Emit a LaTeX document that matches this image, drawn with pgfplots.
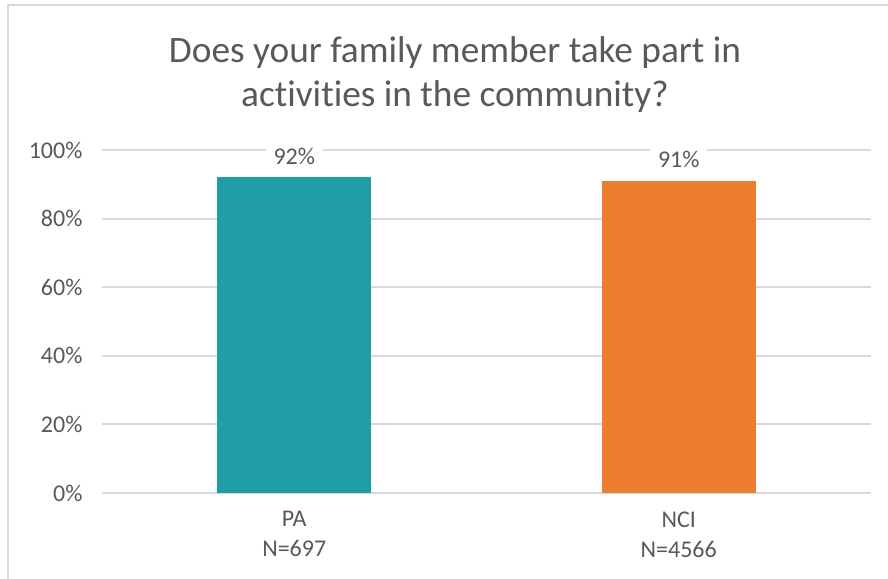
\documentclass[border=0pt]{standalone}
\usepackage{pgfplots}
\pgfplotsset{compat=1.18}
\usepackage{fontspec}
\setmainfont{Carlito}[Ligatures={NoCommon}]

\definecolor{txtgray}{HTML}{595959}
\definecolor{gridgray}{HTML}{D9D9D9}
\definecolor{barteal}{HTML}{209DA6}
\definecolor{barorange}{HTML}{ED7D31}

\begin{document}
\begin{tikzpicture}
\path[use as bounding box] (-102bp,-86bp) rectangle (786bp,493bp);
\fill[white] (-102bp,-86bp) rectangle (786bp,493bp);
\draw[gridgray, line width=2bp] (-94bp,-86bp) -- (-94bp,488bp) -- (786bp,488bp);

\begin{axis}[
  at={(0,0)}, anchor=south west,
  scale only axis,
  width=769bp, height=343bp,
  ybar, bar width=154bp,
  xmin=-0.5, xmax=1.5,
  ymin=0, ymax=100,
  xtick={0,1},
  xticklabels={{PA\\N=697},{NCI\\N=4566}},
  ytick={0,20,40,60,80,100},
  yticklabel={\pgfmathprintnumber{\tick}\%},
  /pgf/number format/assume math mode=true,
  major tick length=0pt,
  axis x line*=bottom,
  axis y line*=left,
  x axis line style={gridgray, line width=2bp},
  y axis line style={draw=none},
  ymajorgrids,
  grid style={gridgray, line width=2bp},
  ticklabel style={font=\fontsize{24bp}{30bp}\selectfont, text=txtgray},
  xticklabel style={align=center, yshift=-15bp},
  yticklabel style={xshift=-16bp},
  title={Does your family member take part in\\activities in the community?},
  title style={align=center, font=\fontsize{37.3bp}{44bp}\selectfont, text=txtgray,
    at={(axis description cs:0.459,1.202)}, anchor=center},
  nodes near coords={\pgfmathprintnumber{\pgfplotspointmeta}\%},
  nodes near coords style={font=\fontsize{24bp}{29bp}\selectfont, text=txtgray,
    fill=white, inner xsep=8bp, inner ysep=4bp, anchor=south, yshift=9bp},
]
\addplot[fill=barteal, draw=none, bar shift=0pt] coordinates {(0,92)};
\addplot[fill=barorange, draw=none, bar shift=0pt] coordinates {(1,91)};
\end{axis}
\end{tikzpicture}
\end{document}
